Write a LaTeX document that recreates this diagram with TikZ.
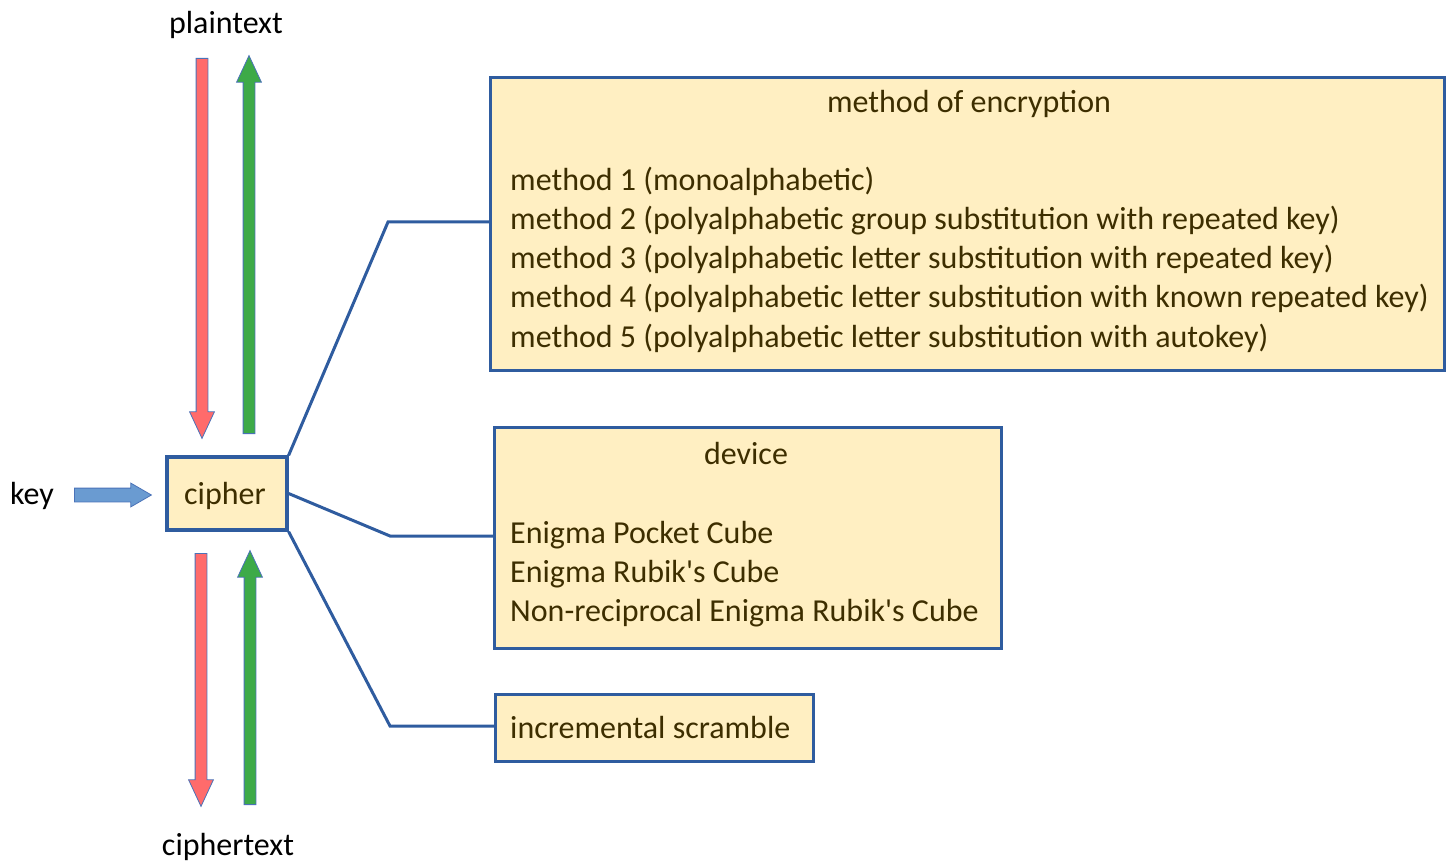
\documentclass[tikz,border=0pt]{standalone}
\usepackage{fontspec}
\setmainfont{Carlito}[Ligatures=TeXOff]
\usepackage{tikz}
\usetikzlibrary{shapes.arrows,positioning}

\definecolor{panelfill}{HTML}{FFEFC2}
\definecolor{panelline}{HTML}{2F5C9F}
\definecolor{paneltext}{HTML}{3D2E00}
\definecolor{arrowred}{HTML}{FF6B6B}
\definecolor{arrowgreen}{HTML}{3DAA48}
\definecolor{arrowblue}{HTML}{6A9BD1}
\definecolor{arrowedge}{HTML}{4A72B8}

\begin{document}
\begin{tikzpicture}
[x=1pt,y=-1pt,
 font=\fontsize{32}{39}\selectfont,
 panel/.style={rectangle,draw=panelline,fill=panelfill,line width=3.2pt,inner sep=0pt,anchor=north west},
 paneltxt/.style={text=paneltext,inner sep=0pt,anchor=base west},
 link/.style={draw=panelline,line width=3pt},
 blockarrow/.style={single arrow,draw=arrowedge,line width=0.8pt,inner xsep=0pt,inner ysep=5.5pt,
   single arrow head extend=6.5pt,single arrow tip angle=50,minimum height=#1,anchor=tail},
 label/.style={inner sep=0pt,anchor=base}]
\useasboundingbox (0,0) rectangle (1452,861);

% cipher and its inputs
\node[panel,anchor=center,minimum width=120pt,minimum height=73pt] (cipher) at (227,493.5) {};
\node[paneltxt,anchor=base] (ciphertxt) at (225,504) {cipher};
\node[label] (key) at (32,504) {key};
\node[label] (plain) at (226,34) {plaintext};
\node[label] (ctext) at (228,855) {ciphertext};

\node[blockarrow=77pt,fill=arrowblue,single arrow tip angle=60,inner ysep=6.5pt,single arrow head extend=5pt] (keyarrow) at (74,495) {};
\node[blockarrow=380pt,fill=arrowred,rotate=-90] (encin) at (202,58) {};
\node[blockarrow=378pt,fill=arrowgreen,rotate=90] (decout) at (249,434) {};
\node[blockarrow=253pt,fill=arrowred,rotate=-90] (encout) at (201,553) {};
\node[blockarrow=254pt,fill=arrowgreen,rotate=90] (decin) at (250,805) {};

% method panel
\node[panel,minimum width=954pt,minimum height=293pt] (methods) at (489,76) {};
\node[paneltxt,anchor=base] (mtitle) at (969,113) {method of encryption};
\node[paneltxt] (m1) at (510,191) {method 1 (monoalphabetic)};
\node[paneltxt] (m2) at (510,230) {method 2 (polyalphabetic group substitution with repeated key)};
\node[paneltxt] (m3) at (510,269) {method 3 (polyalphabetic letter substitution with repeated key)};
\node[paneltxt] (m4) at (510,308) {method 4 (polyalphabetic letter substitution with known repeated key)};
\node[paneltxt] (m5) at (510,347) {method 5 (polyalphabetic letter substitution with autokey)};

% device panel
\node[panel,minimum width=507pt,minimum height=221pt] (devices) at (493,426) {};
\node[paneltxt,anchor=base] (dtitle) at (746,464) {device};
\node[paneltxt] (d1) at (510,543) {Enigma Pocket Cube};
\node[paneltxt] (d2) at (510,582) {Enigma Rubik's Cube};
\node[paneltxt] (d3) at (510,621) {Non-reciprocal Enigma Rubik's Cube};

% scramble panel
\node[panel,minimum width=318pt,minimum height=67pt] (scramble) at (494,693) {};
\node[paneltxt] (s1) at (510,738) {incremental scramble};

% links from cipher to the panels
\coordinate (bend1) at (388,222);
\coordinate (bend2) at (390,536);
\coordinate (bend3) at (390,726);
\draw[link] (cipher.north east) -- (bend1) -- (bend1 -| methods.west);
\draw[link] (cipher.east) -- (bend2) -- (bend2 -| devices.west);
\draw[link] (cipher.south east) -- (bend3) -- (bend3 -| scramble.west);
\end{tikzpicture}
\end{document}
